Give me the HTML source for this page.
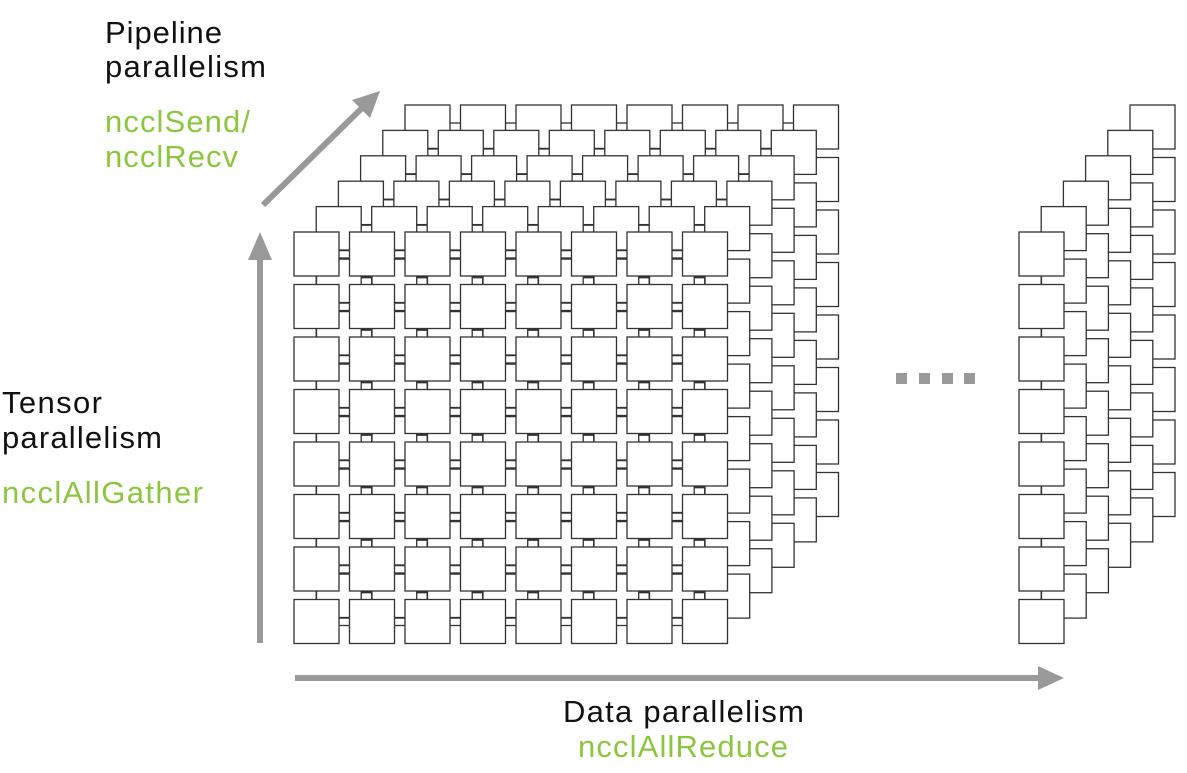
<!DOCTYPE html>
<html><head><meta charset="utf-8"><style>
html,body{margin:0;padding:0;background:#fff;}
svg{display:block;}
text{font-family:"Liberation Sans",sans-serif;font-size:31px;}
</style></head><body>
<svg id="s" width="1187" height="773" viewBox="0 0 1187 773" xmlns="http://www.w3.org/2000/svg">
<rect width="1187" height="773" fill="#fff"/>
<g id="grid" fill="#fff" stroke="#333" stroke-width="1.3"></g>
<g fill="#999" stroke="none">
<rect x="257" y="258" width="6" height="385"/>
<polygon points="260,232 248,260 272,260"/>
<rect x="295" y="675" width="745" height="6"/>
<polygon points="1064,678 1038,666 1038,690"/>
<line x1="263" y1="205" x2="362" y2="108" stroke="#999" stroke-width="6"/>
<polygon points="380,91 352,100 370,118"/>
<rect x="896" y="373" width="11" height="11"/>
<rect x="919" y="373" width="11" height="11"/>
<rect x="942" y="373" width="11" height="11"/>
<rect x="964" y="373" width="11" height="11"/>
</g>
<g fill="#111">
<text x="105" y="43" textLength="117">Pipeline</text>
<text x="105" y="77" textLength="161">parallelism</text>
<text x="2" y="413" textLength="100">Tensor</text>
<text x="2" y="448" textLength="160">parallelism</text>
<text x="563" y="722" textLength="241">Data parallelism</text>
</g>
<g fill="#8cc63f">
<text x="105" y="132" textLength="145">ncclSend/</text>
<text x="105" y="167" textLength="133">ncclRecv</text>
<text x="2" y="503" textLength="201">ncclAllGather</text>
<text x="578" y="757" textLength="210">ncclAllReduce</text>
</g>
</svg>
<script>
var g=document.getElementById('grid'),NS='http://www.w3.org/2000/svg';
function el(t,a){var e=document.createElementNS(NS,t);for(var k in a)e.setAttribute(k,a[k]);g.appendChild(e);}
var W=45,H=44,PX=55.5,PY=52.5,DX=22.2,DY=-25.4;
function block(x0,y0,cols){
 for(var k=5;k>=0;k--){
  var bx=x0+k*DX,by=y0+k*DY;
  for(var r=0;r<8;r++)for(var c=0;c<cols;c++){
   var x=bx+c*PX,y=by+r*PY;
   if(c<cols-1){el('line',{x1:x+W,y1:y+H/2-4,x2:x+PX,y2:y+H/2-4});el('line',{x1:x+W,y1:y+H/2+4,x2:x+PX,y2:y+H/2+4});}
   if(r<7){el('line',{x1:x+W/2,y1:y+H,x2:x+W/2,y2:y+PY});}
  }
  for(var r=0;r<8;r++)for(var c=0;c<cols;c++){
   el('rect',{x:bx+c*PX,y:by+r*PY,width:W,height:H});
  }
 }
}
block(294,232,8);
block(1019,232,1);
</script>
</body></html>
